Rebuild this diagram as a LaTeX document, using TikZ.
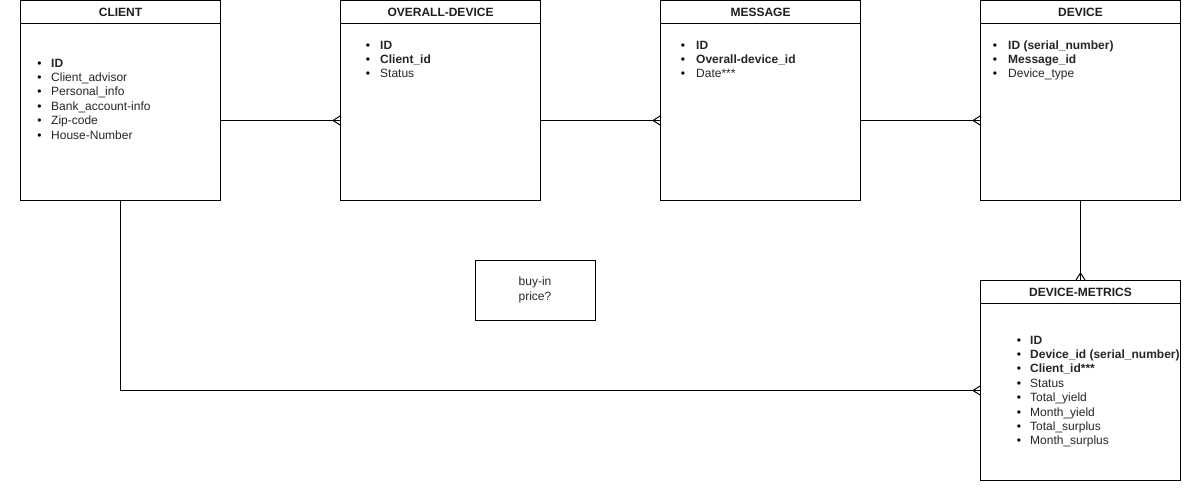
\documentclass[tikz,border=0pt]{standalone}
\usepackage{fontspec}
\setmainfont{Liberation Sans}
\begin{document}
\begin{tikzpicture}[x=1pt,y=-1pt,
  entity/.style={draw=black,line width=1pt,fill=white,anchor=north west,minimum width=200pt,minimum height=200pt,inner sep=0pt},
  hdr/.style={font=\fontsize{12}{14.4}\selectfont\bfseries,text=black!88,inner sep=0pt,anchor=base},
  itm/.style={font=\fontsize{12}{14.4}\selectfont,text=black!85,inner sep=0pt,anchor=base west},
  bul/.style={font=\fontsize{12}{14.4}\selectfont,text=black,inner sep=0pt,anchor=base},
  conn/.style={draw=black,line width=1pt},
  note/.style={draw=black,line width=1pt,minimum width=120pt,minimum height=60pt,align=center,font=\fontsize{12}{14.4}\selectfont,text=black!85,inner sep=0pt}
]
\useasboundingbox (0,0) rectangle (1190,491);
% entity boxes
\node[entity] (client) at (20,0) {};
\node[entity] (overall) at (340,0) {};
\node[entity] (message) at (660,0) {};
\node[entity] (device) at (980,0) {};
\node[entity] (metrics) at (980,280) {};
% header lines
\foreach \e in {client,overall,message,device,metrics}{
  \draw[line width=1pt] ([yshift=-23pt]\e.north west) -- ([yshift=-23pt]\e.north east);
}
% header texts
\node[hdr] (clienth) at ([yshift=-16pt]client.north) {CLIENT};
\node[hdr] (overallh) at ([yshift=-16pt]overall.north) {OVERALL-DEVICE};
\node[hdr] (messageh) at ([yshift=-16pt]message.north) {MESSAGE};
\node[hdr] (deviceh) at ([yshift=-16pt]device.north) {DEVICE};
\node[hdr] (metricsh) at ([yshift=-16pt]metrics.north) {DEVICE-METRICS};
% item lists
\foreach \t [count=\i from 0] in {\textbf{ID},Client\_advisor,Personal\_info,Bank\_account-info,Zip-code,House-Number}{
  \node[bul] (clb\i) at (39.5,67+14.4*\i) {\textbullet};
  \node[itm] (cli\i) at (51,67+14.4*\i) {\t};
}
\foreach \t [count=\i from 0] in {\textbf{ID},\textbf{Client\_id},Status}{
  \node[bul] (ovb\i) at (368,49+14.4*\i) {\textbullet};
  \node[itm] (ovi\i) at (380,49+14.4*\i) {\t};
}
\foreach \t [count=\i from 0] in {\textbf{ID},\textbf{Overall-device\_id},Date***}{
  \node[bul] (meb\i) at (683,49+14.4*\i) {\textbullet};
  \node[itm] (mei\i) at (696,49+14.4*\i) {\t};
}
\foreach \t [count=\i from 0] in {\textbf{ID (serial\_number)},\textbf{Message\_id},Device\_type}{
  \node[bul] (deb\i) at (995,49+14.4*\i) {\textbullet};
  \node[itm] (dei\i) at (1008,49+14.4*\i) {\t};
}
\foreach \t [count=\i from 0] in {\textbf{ID},\textbf{Device\_id (serial\_number)},\textbf{Client\_id***},Status,Total\_yield,Month\_yield,Total\_surplus,Month\_surplus}{
  \node[bul] (mtb\i) at (1019,344+14.4*\i) {\textbullet};
  \node[itm] (mti\i) at (1030,344+14.4*\i) {\t};
}
% note
\node[note] (buyin) at (535,290) {buy-in\\price?};
% connectors
\draw[conn] ([yshift=-20pt]client.east) -- ([yshift=-20pt]overall.west);
\draw[conn] ([yshift=-20pt]overall.east) -- ([yshift=-20pt]message.west);
\draw[conn] ([yshift=-20pt]message.east) -- ([yshift=-20pt]device.west);
\draw[conn] (device.south) -- (metrics.north);
\draw[conn] (client.south) |- ([yshift=-10pt]metrics.west);
% crow's feet
\foreach \e in {overall,message,device}{
  \coordinate (\e-tip) at ([xshift=-7pt,yshift=-20pt]\e.west);
  \draw[conn] ([yshift=-15.5pt]\e.west) -- (\e-tip) -- ([yshift=-24.5pt]\e.west);
}
\coordinate (metrics-ltip) at ([xshift=-7pt,yshift=-10pt]metrics.west);
\draw[conn] ([yshift=-5.5pt]metrics.west) -- (metrics-ltip) -- ([yshift=-14.5pt]metrics.west);
\coordinate (metrics-ttip) at ([yshift=7pt]metrics.north);
\draw[conn] ([xshift=-4.5pt]metrics.north) -- (metrics-ttip) -- ([xshift=4.5pt]metrics.north);
\end{tikzpicture}
\end{document}
